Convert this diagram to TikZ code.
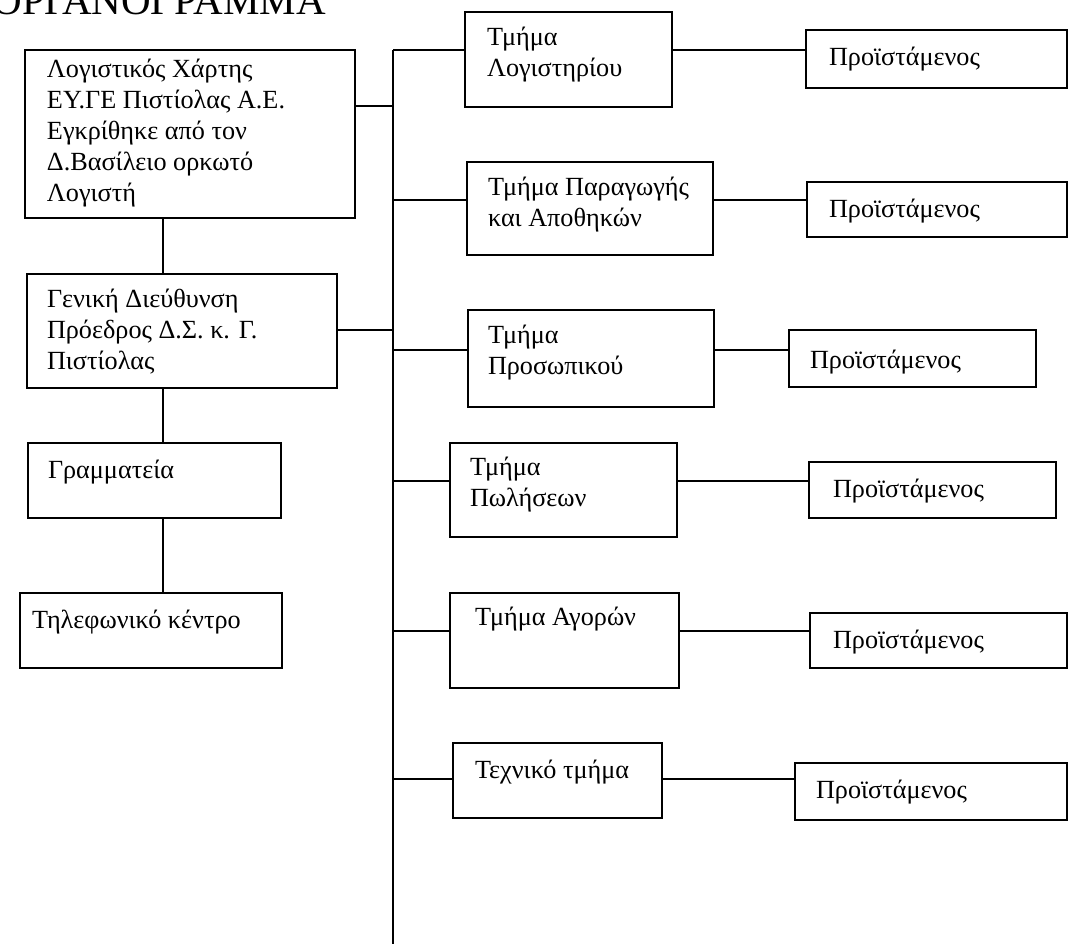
\documentclass[tikz,border=0pt]{standalone}
\usepackage{fontspec}
\setmainfont{Liberation Serif}
\usepackage{tikz}

\newlength{\px}
\setlength{\px}{0.5pt}
% box text: width, height, left pad, first baseline, text
\newcommand{\boxtext}[5]{\parbox[c][#2\px][t]{#1\px}{\raggedright\setlength{\leftskip}{#3\px}\vspace*{\dimexpr #4\px-\ht\strutbox\relax}\strut#5}}

\begin{document}
\begin{tikzpicture}[x=0.5pt,y=-0.5pt]
    \tikzset{box/.style = {draw, line width=1pt, anchor=north west, inner sep=0pt, outer sep=0pt, font=\fontsize{13.1}{15.5}\selectfont}}
    \tikzset{edge/.style = {line width=1pt}}
    \useasboundingbox (0,0) rectangle (1070,944);
    \clip (0,0) rectangle (1070,944);
    % title
    \node[anchor=base west, inner sep=0pt, font=\fontsize{20.5}{24}\selectfont] (title) at (-8,14) {ΟΡΓΑΝΟΓΡΑΜΜΑ};
    % left column
    \node[box] (A) at (25,50) {\boxtext{330}{168}{22}{27}{Λογιστικός Χάρτης\\ΕΥ.ΓΕ Πιστίολας Α.Ε.\\Εγκρίθηκε από τον\\Δ.Βασίλειο ορκωτό\\Λογιστή}};
    \node[box] (B) at (27,274) {\boxtext{310}{114}{20}{33}{Γενική Διεύθυνση\\Πρόεδρος Δ.Σ. κ. Γ.\\Πιστίολας}};
    \node[box] (C) at (28,443) {\boxtext{253}{75}{20}{35}{Γραμματεία}};
    \node[box] (D) at (20,593) {\boxtext{262}{75}{12}{35}{Τηλεφωνικό κέντρο}};
    % departments
    \node[box] (R1) at (465,12) {\boxtext{207}{95}{22}{33}{Τμήμα\\Λογιστηρίου}};
    \node[box] (R2) at (467,162) {\boxtext{246}{93}{21}{33}{Τμήμα Παραγωγής\\και Αποθηκών}};
    \node[box] (R3) at (468,310) {\boxtext{246}{97}{20}{33}{Τμήμα\\Προσωπικού}};
    \node[box] (R4) at (450,443) {\boxtext{227}{94}{20}{32}{Τμήμα\\Πωλήσεων}};
    \node[box] (R5) at (450,593) {\boxtext{229}{95}{25}{32}{Τμήμα Αγορών}};
    \node[box] (R6) at (453,743) {\boxtext{209}{75}{22}{35}{Τεχνικό τμήμα}};
    % heads
    \node[box] (P1) at (806,30) {\boxtext{261}{58}{23}{35}{Προϊστάμενος}};
    \node[box] (P2) at (807,182) {\boxtext{260}{55}{22}{35}{Προϊστάμενος}};
    \node[box] (P3) at (789,330) {\boxtext{247}{57}{21}{38}{Προϊστάμενος}};
    \node[box] (P4) at (809,462) {\boxtext{247}{56}{24}{35}{Προϊστάμενος}};
    \node[box] (P5) at (810,613) {\boxtext{257}{55}{23}{35}{Προϊστάμενος}};
    \node[box] (P6) at (795,763) {\boxtext{272}{57}{21}{35}{Προϊστάμενος}};
    % trunk points
    \coordinate (spine) at (163,0);
    \coordinate (ta) at (393,106);
    \coordinate (tb) at (393,330);
    \coordinate (t1) at (393,50);
    \coordinate (t2) at (393,200);
    \coordinate (t3) at (393,350);
    \coordinate (t4) at (393,481);
    \coordinate (t5) at (393,631);
    \coordinate (t6) at (393,779);
    \coordinate (tend) at (393,944);
    % edges
    \draw[edge] (A.south -| spine) -- (B.north -| spine);
    \draw[edge] (B.south -| spine) -- (C.north -| spine);
    \draw[edge] (C.south -| spine) -- (D.north -| spine);
    \draw[edge] (A.east |- ta) -- (ta);
    \draw[edge] (B.east |- tb) -- (tb);
    \draw[edge] (t1) -- (tend);
    \draw[edge] (t1) -- (R1.west |- t1);
    \draw[edge] (t2) -- (R2.west |- t2);
    \draw[edge] (t3) -- (R3.west |- t3);
    \draw[edge] (t4) -- (R4.west |- t4);
    \draw[edge] (t5) -- (R5.west |- t5);
    \draw[edge] (t6) -- (R6.west |- t6);
    \draw[edge] (R1.east |- t1) -- (P1.west |- t1);
    \draw[edge] (R2.east |- t2) -- (P2.west |- t2);
    \draw[edge] (R3.east |- t3) -- (P3.west |- t3);
    \draw[edge] (R4.east |- t4) -- (P4.west |- t4);
    \draw[edge] (R5.east |- t5) -- (P5.west |- t5);
    \draw[edge] (R6.east |- t6) -- (P6.west |- t6);
\end{tikzpicture}
\end{document}
